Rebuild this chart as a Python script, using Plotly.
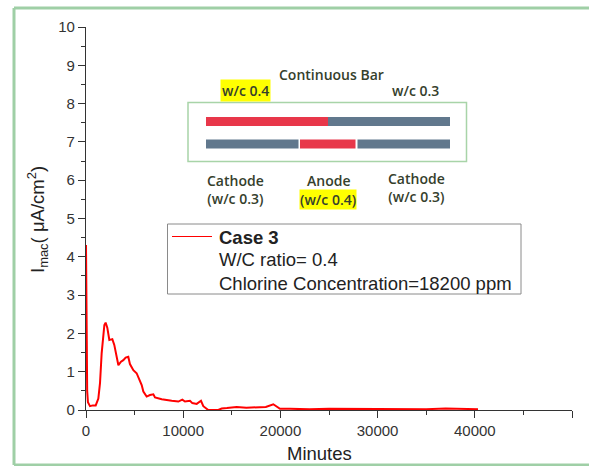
import plotly.graph_objects as go

# Macrocell current density over time, Case 3
minutes = [0, 20, 60, 120, 200, 410, 700, 1000, 1270, 1440, 1610, 1890, 2020, 2190,
           2400, 2710, 2910, 3150, 3330, 3600, 3840, 4080, 4350, 4520, 4870, 5210,
           5560, 5730, 5900, 6240, 6580, 6930, 7100, 7790, 8820, 9500, 9910, 10180,
           10700, 10940, 11390, 11830, 12070, 12580, 13610, 13960, 14500, 15500,
           16500, 17500, 18500, 19270, 19960, 21000, 23000, 25000, 27000, 29000,
           31000, 33000, 35000, 37000, 39000, 40330]
imac = [4.31, 3.0, 1.2, 0.5, 0.2, 0.1, 0.12, 0.12, 0.3, 0.7, 1.48, 2.22, 2.28, 2.15,
        1.83, 1.85, 1.7, 1.39, 1.17, 1.26, 1.3, 1.37, 1.39, 1.2, 1.04, 0.96,
        0.78, 0.65, 0.48, 0.35, 0.39, 0.41, 0.33, 0.28, 0.24, 0.22, 0.27, 0.22,
        0.24, 0.18, 0.16, 0.24, 0.1, 0.0, 0.0, 0.04, 0.05, 0.08,
        0.06, 0.07, 0.08, 0.15, 0.03, 0.03, 0.02, 0.03, 0.03, 0.02,
        0.03, 0.03, 0.02, 0.04, 0.03, 0.02]

x_ticks = [0, 10000, 20000, 30000, 40000, 50000]
y_ticks = list(range(0, 11))

legend_lines = ["<b>Case 3</b>", "W/C ratio= 0.4", "Chlorine Concentration=18200 ppm"]

W, H = 589, 466
ML, MR, MT, MB = 86, 17, 27, 56
PW, PH = W - ML - MR, H - MT - MB


def px(x):
    """Pixel column -> paper x."""
    return (x - ML) / PW


def py(y):
    """Pixel row -> paper y."""
    return (H - MB - y) / PH


RED = "#E8374A"
GRAY = "#61788D"
INK = "#35402c"
FRAME = "#9fcfa6"

fig = go.Figure()
fig.add_trace(go.Scatter(x=minutes, y=imac, mode="lines",
                         line=dict(color="#FF0000", width=2), showlegend=False))


def seg(x0, y0, x1, y1, color, width):
    return dict(type="line", xref="paper", yref="paper", x0=px(x0), x1=px(x1),
                y0=py(y0), y1=py(y1), line=dict(color=color, width=width), layer="below")


def bar(x0, x1, y0, y1, color):
    return dict(type="rect", xref="paper", yref="paper", x0=px(x0), x1=px(x1),
                y0=py(y1), y1=py(y0), line=dict(width=0), fillcolor=color)


shapes = [
    # outer frame (open on the right)
    seg(14, 8, 14, 465, FRAME, 3),
    seg(14, 8, 595, 8, FRAME, 3),
    seg(14, 465, 595, 465, FRAME, 3),
    # schematic box
    dict(type="rect", xref="paper", yref="paper", x0=px(188), x1=px(466.5), y0=py(161.5), y1=py(102.5),
         line=dict(color="#a8d4a8", width=1.5), fillcolor="white"),
    # continuous bar
    bar(206, 328, 117, 126, RED),
    bar(328, 450, 117, 126, GRAY),
    # segmented bar
    bar(206, 298.5, 139.5, 148.5, GRAY),
    bar(300, 355.5, 139.5, 148.5, RED),
    bar(357.5, 450, 139.5, 148.5, GRAY),
    # legend box and sample line
    dict(type="rect", xref="paper", yref="paper", x0=px(167.5), x1=px(521), y0=py(294), y1=py(224),
         line=dict(color="#8a8a8a", width=1), fillcolor="rgba(255,255,255,0)"),
    dict(type="line", xref="paper", yref="paper", x0=px(172), x1=px(212), y0=py(236.5), y1=py(236.5),
         line=dict(color="#FF0000", width=1)),
]

schem_font = dict(family="Open Sans", size=14, color=INK, weight=600)
annotations = []


def note(text, x, y, bg=None, xanchor="center", font=None, pad=0):
    a = dict(text=text, x=px(x), y=py(y), xref="paper", yref="paper", showarrow=False,
             xanchor=xanchor, yanchor="middle", font=font or schem_font, borderpad=pad)
    if bg:
        a["bgcolor"] = bg
    annotations.append(a)


note("Continuous Bar", 331, 75)
note("w/c 0.4", 245, 91, bg="#FFFF00", pad=1)
note("w/c 0.3", 415, 91)
note("Cathode<br>(w/c 0.3)", 235, 189.5)
note("Anode", 328, 180)
note("(w/c 0.4)", 327.5, 199, bg="#FFFF00")
note("Cathode<br>(w/c 0.3)", 416, 187)

leg_font = dict(family="Liberation Sans, Arial", size=18.5, color="#222222")
for text, yy in zip(legend_lines, [237, 259, 283]):
    note(text, 218, yy, xanchor="left", font=leg_font)

# axis titles
annotations.append(dict(text="Minutes", x=px(319.5), y=py(453), xref="paper", yref="paper",
                        showarrow=False, xanchor="center", yanchor="middle",
                        font=dict(family="Liberation Sans, Arial", size=18.5, color="#222222")))
annotations.append(dict(text="I<sub>mac</sub>( μA/cm<sup>2</sup>)", x=px(37), y=py(220),
                        xref="paper", yref="paper", showarrow=False, textangle=-90,
                        xanchor="center", yanchor="middle",
                        font=dict(family="Liberation Sans, Arial", size=18.5, color="#222222")))

axis_common = dict(showgrid=False, zeroline=False, showline=True, linecolor="#333333",
                   linewidth=1.3, ticks="outside", ticklen=7, tickwidth=1.3, tickcolor="#333333",
                   tickfont=dict(family="Liberation Sans, Arial", size=15, color="#333333"),
                   mirror=False)

fig.update_layout(
    width=W, height=H, margin=dict(l=ML, r=MR, t=MT, b=MB),
    paper_bgcolor="white", plot_bgcolor="white",
    xaxis=dict(range=[0, 50000], tickvals=x_ticks, ticktext=[str(v) for v in x_ticks],
               minor=dict(ticks="outside", ticklen=4, dtick=5000, tickcolor="#333333", tickwidth=1.2),
               **axis_common),
    yaxis=dict(range=[0, 10], tickvals=y_ticks, ticktext=[str(v) for v in y_ticks],
               minor=dict(ticks="outside", ticklen=4, dtick=0.5, tickcolor="#333333", tickwidth=1.2),
               **axis_common),
    shapes=shapes, annotations=annotations, showlegend=False,
)

fig.write_html("out.html")
